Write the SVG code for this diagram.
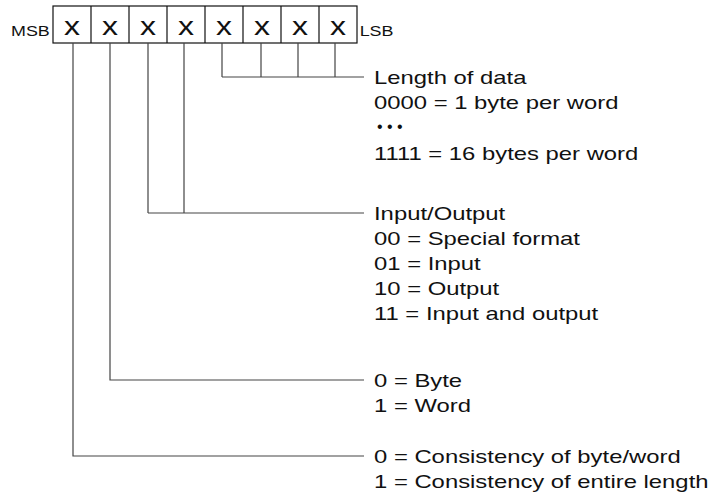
<svg xmlns="http://www.w3.org/2000/svg" width="712" height="501" viewBox="0 0 712 501">
<style>
.t{font-family:"Liberation Sans",Arial,sans-serif;font-size:19px;fill:#111}
.s{font-family:"Liberation Sans",Arial,sans-serif;font-size:14px;fill:#111}
.x{font-family:"Liberation Sans",Arial,sans-serif;font-size:25px;fill:#111;text-anchor:middle}
.d{font-family:"Liberation Sans",Arial,sans-serif;font-size:16px;fill:#111}
.c{fill:none;stroke:#444;stroke-width:1.2}
.b{fill:none;stroke:#111;stroke-width:1.2}
</style>
<rect width="712" height="501" fill="#fff"/>
<g id="register">
<rect class="b" x="53" y="6" width="304" height="37"/>
<path class="b" d="M91 6V43M129 6V43M167 6V43M205 6V43M243 6V43M281 6V43M319 6V43"/>
<g transform="scale(1.28,1)">
<text class="x" x="56.3" y="35">x</text>
<text class="x" x="86" y="35">x</text>
<text class="x" x="115.6" y="35">x</text>
<text class="x" x="145.3" y="35">x</text>
<text class="x" x="175" y="35">x</text>
<text class="x" x="204.7" y="35">x</text>
<text class="x" x="234.4" y="35">x</text>
<text class="x" x="264" y="35">x</text>
<text class="s" x="8.6" y="36">MSB</text>
<text class="s" x="281" y="36">LSB</text>
</g>
</g>
<g id="connectors">
<path class="c" d="M222 43V77M261 43V77M298 43V77M335 43V77M222 77H364"/>
<path class="c" d="M148 43V213M184 43V213M148 213H364"/>
<path class="c" d="M110 43V380H364"/>
<path class="c" d="M73 43V456H364"/>
</g>
<g id="length">
<g transform="translate(374,0) scale(1.255,1)">
<text class="t" x="0" y="84">Length of data</text>
<text class="t" x="0" y="109">0000 = 1 byte per word</text>
<text class="t" x="0" y="160">1111 = 16 bytes per word</text>
</g>
<text class="d" x="377" y="132">• • •</text>
</g>
<g id="io" transform="translate(374,0) scale(1.255,1)">
<text class="t" x="0" y="220">Input/Output</text>
<text class="t" x="0" y="245">00 = Special format</text>
<text class="t" x="0" y="270">01 = Input</text>
<text class="t" x="0" y="295">10 = Output</text>
<text class="t" x="0" y="320">11 = Input and output</text>
</g>
<g id="byteword" transform="translate(374,0) scale(1.255,1)">
<text class="t" x="0" y="387">0 = Byte</text>
<text class="t" x="0" y="412">1 = Word</text>
</g>
<g id="consistency" transform="translate(374,0) scale(1.255,1)">
<text class="t" x="0" y="463">0 = Consistency of byte/word</text>
<text class="t" x="0" y="488">1 = Consistency of entire length</text>
</g>
</svg>
